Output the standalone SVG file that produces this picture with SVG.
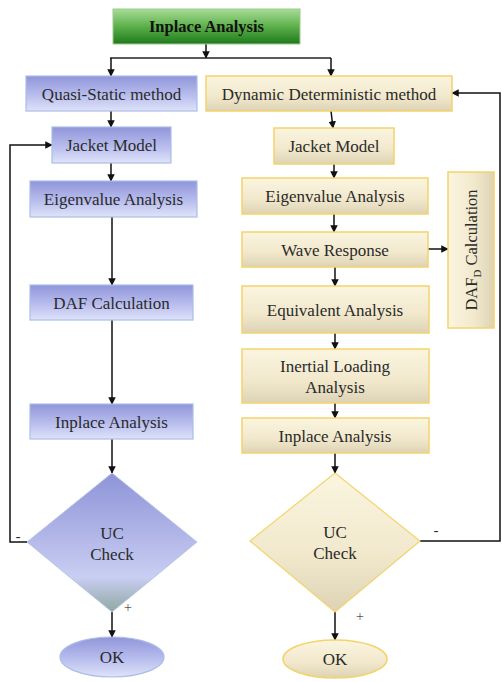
<svg xmlns="http://www.w3.org/2000/svg" width="502" height="682" viewBox="0 0 502 682" font-family="'Liberation Serif', 'DejaVu Serif', serif">
<defs>
<linearGradient id="gGreen" x1="0" y1="0" x2="0" y2="1">
<stop offset="0" stop-color="#a8dc98"/><stop offset="0.5" stop-color="#5cb04a"/><stop offset="1" stop-color="#1f7a1c"/>
</linearGradient>
<linearGradient id="gBlue" x1="0" y1="0" x2="0" y2="1">
<stop offset="0" stop-color="#9095da"/><stop offset="0.6" stop-color="#bcc1ef"/><stop offset="1" stop-color="#dfe3f9"/>
</linearGradient>
<linearGradient id="gBlueD" x1="0" y1="0" x2="0" y2="1">
<stop offset="0" stop-color="#8e93d8"/><stop offset="0.75" stop-color="#c9cef2"/><stop offset="1" stop-color="#8fa8a0"/>
</linearGradient>
<linearGradient id="gYel" x1="0" y1="0" x2="0" y2="1">
<stop offset="0" stop-color="#fbf5e0"/><stop offset="0.6" stop-color="#f1e8cc"/><stop offset="1" stop-color="#ddd2b4"/>
</linearGradient>
<linearGradient id="gYelV" x1="0" y1="0" x2="1" y2="0">
<stop offset="0" stop-color="#fbf5e0"/><stop offset="0.6" stop-color="#f1e8cc"/><stop offset="1" stop-color="#ddd2b4"/>
</linearGradient>
<marker id="arr" viewBox="0 0 10 10" refX="9" refY="5" markerWidth="5" markerHeight="5" orient="auto">
<path d="M0,0 L10,5 L0,10 z" fill="#111"/>
</marker>
<style>
text{font-family:'Liberation Serif','DejaVu Serif',serif;}
.t{font-size:17px;fill:#2a2a2a;text-anchor:middle;}
.b{fill:url(#gBlue);stroke:#a9bfe6;stroke-width:1.2;}
.y{fill:url(#gYel);stroke:#f3d46a;stroke-width:1.5;}
.c{fill:none;stroke:#111;stroke-width:1.5;marker-end:url(#arr);}
.l{fill:none;stroke:#222;stroke-width:1.5;}
</style>
</defs>

<g id="connectors">
<polyline class="c" points="206,44 206,58"/>
<polyline class="l" points="110,58 331,58"/>
<polyline class="c" points="111,58 111,76"/>
<polyline class="c" points="331,58 331,76"/>
<polyline class="c" points="111,111 111,127"/>
<polyline class="c" points="111,163 111,181"/>
<polyline class="c" points="112,217 112,285"/>
<polyline class="c" points="112,320 112,404"/>
<polyline class="c" points="112,439 112,473"/>
<polyline class="c" points="112,612 112,637"/>
<polyline class="c" points="27,542 10,542 10,145 52,145"/>
<polyline class="c" points="331,111 333,128"/>
<polyline class="c" points="334,164 334,178"/>
<polyline class="c" points="334,214 334,232"/>
<polyline class="c" points="335,267 335,286"/>
<polyline class="c" points="335,333 335,349"/>
<polyline class="c" points="335,403 335,418"/>
<polyline class="c" points="335,453 335,473"/>
<polyline class="c" points="335,612 335,640"/>
<polyline class="c" points="428,249 448,249"/>
<polyline class="c" points="420,541 500,541 500,93 452,93"/>
</g>

<g id="top">
<rect x="113" y="9" width="187" height="35" fill="url(#gGreen)" stroke="#9ccc8a" stroke-width="1"/>
<text class="t" x="206.5" y="32" style="font-weight:bold;font-size:16.5px;fill:#111">Inplace Analysis</text>
</g>

<g id="quasi">
<rect class="b" x="26" y="76" width="171" height="35"/>
<text class="t" x="111.5" y="99.5">Quasi-Static method</text>
</g>
<g id="jacketL">
<rect class="b" x="52" y="127" width="119" height="36"/>
<text class="t" x="111.5" y="151">Jacket Model</text>
</g>
<g id="eigenL">
<rect class="b" x="30" y="181" width="167" height="36"/>
<text class="t" x="113.5" y="205">Eigenvalue Analysis</text>
</g>
<g id="dafL">
<rect class="b" x="30" y="285" width="163" height="35"/>
<text class="t" x="111.5" y="308.5">DAF Calculation</text>
</g>
<g id="inplaceL">
<rect class="b" x="30" y="404" width="163" height="35"/>
<text class="t" x="111.5" y="427.5">Inplace Analysis</text>
</g>
<g id="ucL">
<polygon points="112,473 197,542 112,612 27,542" fill="url(#gBlueD)" stroke="#b6c6ea" stroke-width="1"/>
<text class="t" x="112" y="539">UC</text>
<text class="t" x="112" y="560">Check</text>
<text class="t" x="18" y="541" style="font-size:14px;fill:#222">-</text>
<text class="t" x="128" y="612" style="font-size:14px;fill:#555">+</text>
</g>
<g id="okL">
<ellipse cx="112" cy="657" rx="52" ry="20" fill="url(#gBlue)" stroke="#a9bfe6" stroke-width="1.2"/>
<text class="t" x="112" y="663">OK</text>
</g>

<g id="dyn">
<rect class="y" x="206" y="76" width="246" height="35"/>
<text class="t" x="329" y="99.5">Dynamic Deterministic method</text>
</g>
<g id="jacketR">
<rect class="y" x="274" y="128" width="120" height="36"/>
<text class="t" x="334" y="152">Jacket Model</text>
</g>
<g id="eigenR">
<rect class="y" x="242" y="178" width="186" height="36"/>
<text class="t" x="335" y="202">Eigenvalue Analysis</text>
</g>
<g id="wave">
<rect class="y" x="242" y="232" width="186" height="35"/>
<text class="t" x="335" y="255.5">Wave Response</text>
</g>
<g id="equiv">
<rect class="y" x="242" y="286" width="187" height="47"/>
<text class="t" x="335" y="315.5">Equivalent Analysis</text>
</g>
<g id="inertial">
<rect class="y" x="242" y="349" width="187" height="54"/>
<text class="t" x="335" y="372">Inertial Loading</text>
<text class="t" x="335" y="393">Analysis</text>
</g>
<g id="inplaceR">
<rect class="y" x="242" y="418" width="187" height="35"/>
<text class="t" x="335" y="441.5">Inplace Analysis</text>
</g>
<g id="dafD">
<rect x="448" y="172" width="46" height="156" fill="url(#gYelV)" stroke="#f3d46a" stroke-width="1.5"/>
<text class="t" transform="translate(477,250) rotate(-90)" style="font-size:16.5px">DAF<tspan dy="4" style="font-size:11px">D</tspan><tspan dy="-4"> Calculation</tspan></text>
</g>
<g id="ucR">
<polygon points="335,473 420,541 335,612 250,541" fill="url(#gYel)" stroke="#f3d46a" stroke-width="1.2"/>
<text class="t" x="335" y="538">UC</text>
<text class="t" x="335" y="559">Check</text>
<text class="t" x="436" y="535" style="font-size:14px;fill:#222">-</text>
<text class="t" x="360" y="621" style="font-size:14px;fill:#555">+</text>
</g>
<g id="okR">
<ellipse cx="335" cy="659" rx="52" ry="19" fill="url(#gYel)" stroke="#f3d46a" stroke-width="1.5"/>
<text class="t" x="335" y="665">OK</text>
</g>
</svg>
